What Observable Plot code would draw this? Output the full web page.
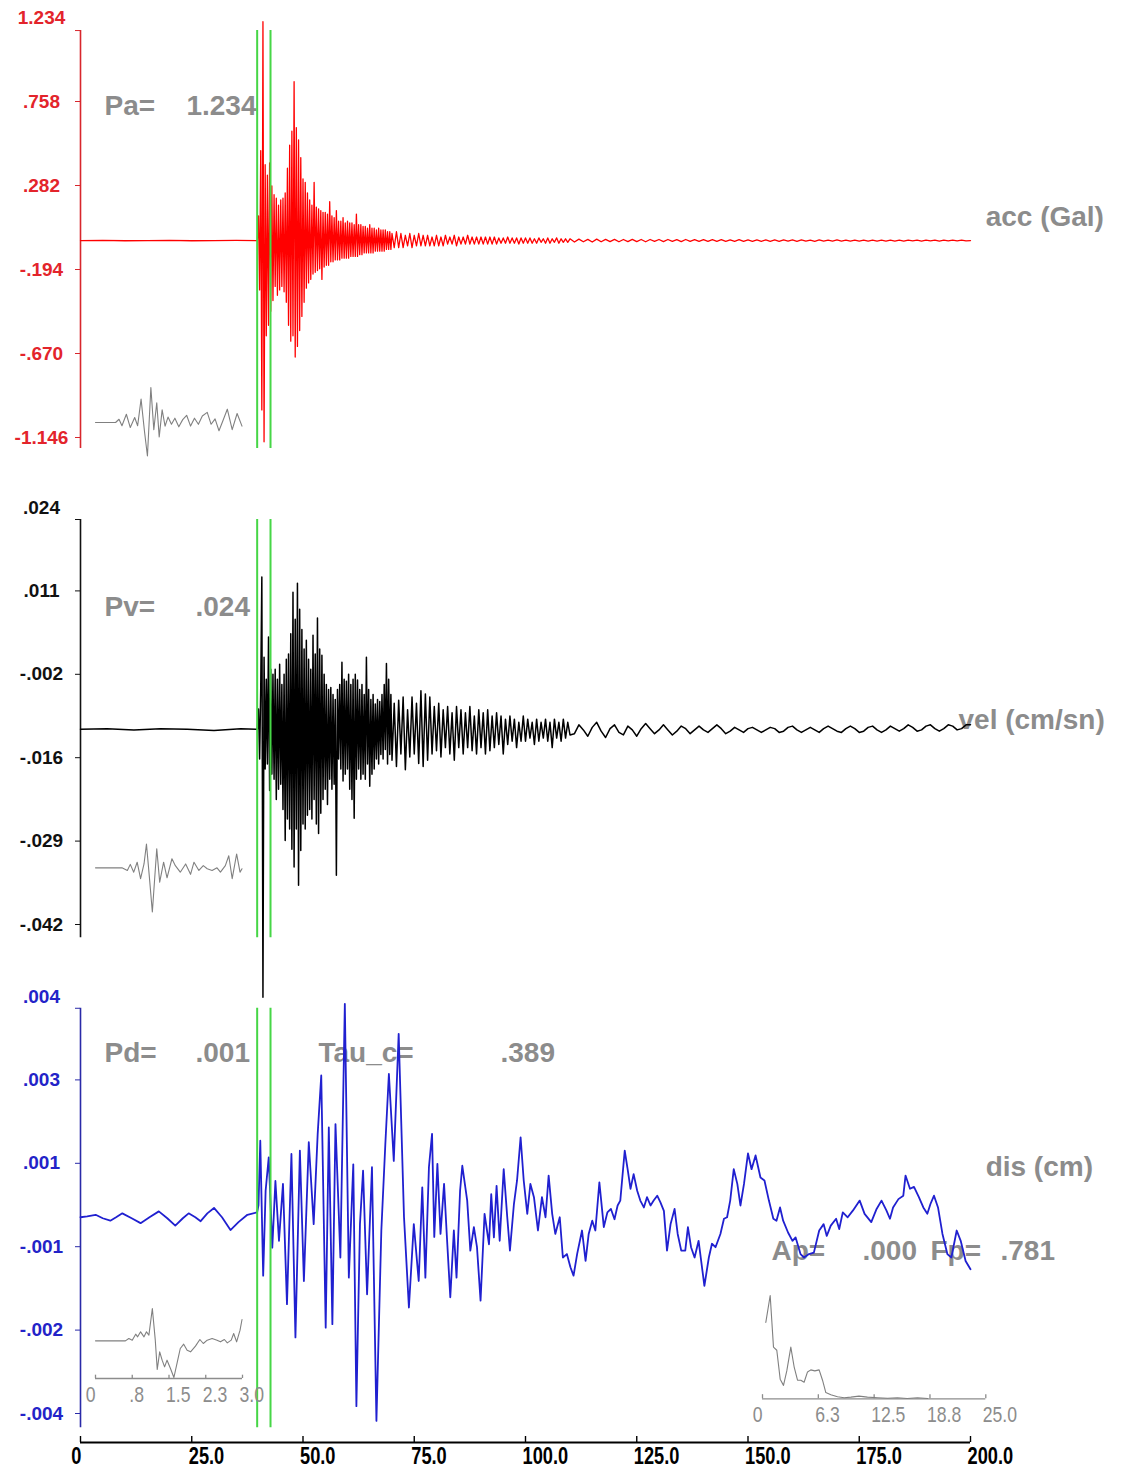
<!DOCTYPE html>
<html>
<head>
<meta charset="utf-8">
<script src="https://cdn.jsdelivr.net/npm/d3@7"></script>
<script src="https://cdn.jsdelivr.net/npm/@observablehq/plot@0.6"></script>
<style>
  body { margin: 0; background: #fff; }
  #chart { position: relative; width: 1122px; height: 1469px; overflow: hidden; background: #fff; }
  #chart svg { position: absolute; }
</style>
</head>
<body>
<div id="chart"></div>
<script>
// ---------------- DATA ----------------
const xTicks = [0, 25, 50, 75, 100, 125, 150, 175, 200];
const xTickLabels = ["0", "25.0", "50.0", "75.0", "100.0", "125.0", "150.0", "175.0", "200.0"];

const accTicks = [1.234, 0.758, 0.282, -0.194, -0.670, -1.146];
const accTickLabels = ["1.234", ".758", ".282", "-.194", "-.670", "-1.146"];
const velTicks = [0.024, 0.0108, -0.0024, -0.0156, -0.0288, -0.042];
const velTickLabels = [".024", ".011", "-.002", "-.016", "-.029", "-.042"];
const disTicks = [0.0043, 0.0026, 0.0009, -0.0008, -0.0025, -0.0042];
const disTickLabels = [".004", ".003", ".001", "-.001", "-.002", "-.004"];

// P-wave window picks (s)
const pickTimes = [39.7, 42.7];

// Acceleration (Gal)
const accPreT = [0, 5, 10, 15, 20, 25, 30, 35, 39.5];
const accPreV = [-0.03, -0.029, -0.031, -0.03, -0.029, -0.031, -0.03, -0.029, -0.03];
const accMainStart = 39.75, accMainStep = 0.25;
const accMain = [
 -0.03, 0.11, -0.31, 0.48, -0.99, 1.21, -1.17, 0.40, -0.57, 0.34,
 -0.51, 0.41, -0.43, 0.28, -0.37, 0.23, -0.29, 0.21, -0.34, 0.17,
 -0.31, 0.20, -0.29, 0.21, -0.32, 0.24, -0.38, 0.38, -0.51, 0.51,
 -0.60, 0.59, -0.57, 0.87, -0.69, 0.61, -0.63, 0.54, -0.54, 0.44,
 -0.46, 0.32, -0.38, 0.30, -0.30, 0.24, -0.27, 0.20, -0.25, 0.17,
 -0.22, 0.30, -0.21, 0.16, -0.20, 0.15, -0.19, 0.14, -0.25, 0.13,
 -0.18, 0.13, -0.17, 0.12, -0.17, 0.19, -0.15, 0.11, -0.15, 0.10,
 -0.14, 0.14, -0.14, 0.08, -0.14, 0.08, -0.13, 0.10, -0.13, 0.07,
 -0.13, 0.08, -0.13, 0.07, -0.12, 0.07, -0.12, 0.06, -0.12, 0.12,
 -0.12, 0.06, -0.11, 0.06, -0.11, 0.05, -0.10, 0.05, -0.10, 0.04,
 -0.10, 0.06, -0.10, 0.04, -0.10, 0.04, -0.09, 0.03, -0.09, 0.04,
 -0.09, 0.03, -0.09, 0.03, -0.09, 0.03, -0.08, 0.02, -0.08, 0.02,
 -0.08];
const accTail1Start = 70, accTail1Step = 0.5;
const accTail1 = [
 0.01, -0.07, 0.02, -0.07, 0.01, -0.07, 0.00, -0.06, 0.01, -0.07,
 0.00, -0.06, 0.01, -0.06, 0.00, -0.06, 0.00, -0.06, -0.01, -0.06,
 0.00, -0.06, -0.01, -0.06, 0.00, -0.05, -0.01, -0.05, 0.00, -0.06,
 -0.01, -0.05, -0.01, -0.05, 0.00, -0.05, -0.01, -0.05, -0.01, -0.05,
 -0.01, -0.05, -0.01, -0.05, -0.01, -0.05, -0.01, -0.05, -0.015, -0.045,
 -0.015, -0.045, -0.01, -0.045, -0.015, -0.045, -0.015, -0.05, -0.015, -0.045,
 -0.015, -0.045, -0.015, -0.045, -0.02, -0.045, -0.015, -0.04, -0.02, -0.045,
 -0.015, -0.045, -0.02, -0.04, -0.015, -0.045, -0.02, -0.04, -0.02, -0.04,
 -0.02];
const accTail2Start = 111, accTail2Step = 1;
const accTail2 = [
 -0.038, -0.022, -0.037, -0.023, -0.038, -0.022, -0.037, -0.023, -0.036, -0.023,
 -0.037, -0.024, -0.036, -0.023, -0.036, -0.024, -0.037, -0.024, -0.035, -0.024,
 -0.036, -0.024, -0.035, -0.025, -0.036, -0.024, -0.035, -0.025, -0.035, -0.025,
 -0.035, -0.025, -0.034, -0.025, -0.035, -0.026, -0.034, -0.025, -0.035, -0.026,
 -0.034, -0.026, -0.034, -0.026, -0.034, -0.026, -0.034, -0.026, -0.033, -0.026,
 -0.034, -0.026, -0.033, -0.027, -0.034, -0.026, -0.033, -0.027, -0.033, -0.026,
 -0.033, -0.027, -0.033, -0.027, -0.033, -0.027, -0.033, -0.027, -0.033, -0.027,
 -0.033, -0.027, -0.033, -0.027, -0.033, -0.027, -0.032, -0.027, -0.033, -0.028,
 -0.032, -0.027, -0.033, -0.028, -0.032, -0.028, -0.032, -0.028, -0.032, -0.030];

// Velocity (cm/s)
const velPreT = [0, 6, 12, 18, 24, 30, 36, 39.5];
const velPreV = [-0.0111, -0.0110, -0.0112, -0.0110, -0.0111, -0.0113, -0.0110, -0.0111];
const velMainStart = 39.75, velMainStep = 0.25;
const velMain = [
 -0.0111, -0.0079, -0.0158, -0.0048, 0.0130, -0.0535, 0.0003, -0.0174, -0.0032, -0.0166,
 0.0035, -0.0208, -0.0016, -0.0182, -0.0024, -0.0190, -0.0016, -0.0222, -0.0032, -0.0206,
 -0.0008, -0.0198, -0.0040, -0.0238, -0.0024, -0.0287, 0.0000, -0.0253, 0.0008, -0.0269,
 0.0040, -0.0301, 0.0106, -0.0329, 0.0063, -0.0269, 0.0120, -0.0358, 0.0079, -0.0303,
 0.0047, -0.0261, 0.0016, -0.0269, 0.0030, -0.0247, 0.0000, -0.0238, -0.0016, -0.0253,
 0.0038, -0.0222, 0.0008, -0.0261, 0.0065, -0.0276, 0.0016, -0.0244, 0.0006, -0.0222,
 -0.0024, -0.0206, -0.0040, -0.0230, -0.0048, -0.0190, -0.0045, -0.0206, -0.0056, -0.0198,
 -0.0064, -0.0342, -0.0048, -0.0158, -0.0040, -0.0174, -0.0005, -0.0193, -0.0032, -0.0182,
 -0.0035, -0.0174, -0.0024, -0.0206, -0.0040, -0.0222, -0.0032, -0.0252, -0.0024, -0.0190,
 -0.0033, -0.0174, -0.0048, -0.0190, -0.0040, -0.0182, -0.0056, -0.0190, 0.0003, -0.0166,
 -0.0048, -0.0201, -0.0064, -0.0182, -0.0056, -0.0174, -0.0071, -0.0158, -0.0064, -0.0166,
 -0.0067, -0.0151, -0.0056, -0.0158, -0.0040, -0.0143, -0.0007, -0.0166, -0.0032, -0.0151,
 -0.0056];
const velTail1Start = 70, velTail1Step = 0.5;
const velTail1 = [
 -0.0160, -0.0070, -0.0170, -0.0065, -0.0150, -0.0060, -0.0175, -0.0080, -0.0155, -0.0060,
 -0.0150, -0.0070, -0.0165, -0.0050, -0.0170, -0.0055, -0.0160, -0.0060, -0.0150, -0.0075,
 -0.0145, -0.0070, -0.0155, -0.0080, -0.0140, -0.0075, -0.0150, -0.0085, -0.0160, -0.0075,
 -0.0140, -0.0080, -0.0150, -0.0085, -0.0140, -0.0075, -0.0145, -0.0090, -0.0150, -0.0080,
 -0.0140, -0.0085, -0.0150, -0.0080, -0.0145, -0.0090, -0.0140, -0.0085, -0.0135, -0.0090,
 -0.0150, -0.0095, -0.0135, -0.0090, -0.0130, -0.0095, -0.0140, -0.0100, -0.0130, -0.0090,
 -0.0130, -0.0095, -0.0125, -0.0100, -0.0135, -0.0095, -0.0130, -0.0100, -0.0125, -0.0095,
 -0.0130, -0.0100, -0.0140, -0.0095, -0.0125, -0.0100, -0.0130, -0.0095, -0.0125, -0.0100,
 -0.0120];
const velTail2Start = 111, velTail2Step = 1;
const velTail2 = [
 -0.0118, -0.0104, -0.0112, -0.0122, -0.0108, -0.0100, -0.0114, -0.0124, -0.0110, -0.0104,
 -0.0116, -0.0120, -0.0106, -0.0112, -0.0122, -0.0110, -0.0102, -0.0110, -0.0118, -0.0112,
 -0.0104, -0.0112, -0.0120, -0.0114, -0.0106, -0.0110, -0.0118, -0.0112, -0.0106, -0.0112,
 -0.0116, -0.0110, -0.0104, -0.0110, -0.0118, -0.0114, -0.0108, -0.0112, -0.0116, -0.0110,
 -0.0108, -0.0112, -0.0116, -0.0112, -0.0108, -0.0110, -0.0116, -0.0114, -0.0108, -0.0106,
 -0.0112, -0.0116, -0.0112, -0.0108, -0.0112, -0.0116, -0.0110, -0.0106, -0.0110, -0.0114,
 -0.0116, -0.0110, -0.0106, -0.0110, -0.0116, -0.0114, -0.0108, -0.0106, -0.0112, -0.0116,
 -0.0112, -0.0106, -0.0110, -0.0114, -0.0110, -0.0104, -0.0108, -0.0114, -0.0112, -0.0106,
 -0.0104, -0.0110, -0.0114, -0.0110, -0.0104, -0.0106, -0.0112, -0.0110, -0.0104, -0.0104];

// Displacement (cm)
const disT = [0, 1.5, 3.4, 5, 6.7, 8, 9.4, 11.5, 13.5, 15.5, 17.6, 19.5, 21.3, 23, 24.3, 25.8, 27, 28.5, 30, 31.8, 33.7, 35.5, 37.5, 39.7,
 40.0, 40.4, 41.05, 41.6, 42.3, 43.1, 43.8, 44.6, 45.5, 46.4,
 47.4, 48.3, 49.3, 50.2, 51.3, 52.4, 53.3, 54.1, 55.1, 55.8,
 56.6, 57.3, 58.4, 59.4, 60.3, 61.3, 62.0, 62.8, 63.5, 64.4,
 65.5, 66.5, 67.6, 68.5, 69.3, 70.4, 71.5, 72.7, 73.8, 74.9,
 76.0, 76.8, 77.5, 78.3, 79.0, 79.5, 80.2, 80.9, 81.7, 82.3,
 83.1, 83.9, 84.5, 85.3, 85.8, 86.9, 87.6, 88.4, 89.1, 89.9,
 90.8, 91.8, 92.3, 92.9, 93.5, 94.2, 95.1, 95.9, 96.5, 97.4,
 98.1, 98.9, 99.6, 100.4, 101.1, 101.9, 102.8, 103.7, 104.5, 105.2,
 106.0, 106.7, 107.7, 108.4, 109.3, 110.1, 110.8, 111.6, 112.7, 113.5,
 114.2, 115.0, 115.7, 116.6, 117.6, 118.4, 119.2, 120.0, 120.7, 121.3,
 122.3, 123.0, 123.6, 124.3, 125.1, 125.8, 126.6, 127.3, 128.1, 128.8,
 129.6, 130.3, 131.1, 131.8, 132.6, 133.5, 134.2, 135.0, 135.9, 136.5,
 137.2, 138.0, 138.9, 140.2, 141.2, 141.9, 142.7, 143.8, 144.6, 145.3,
 146.0, 146.8, 147.6, 148.3, 149.1, 150.0, 150.8, 151.7, 152.8, 153.7,
 154.7, 155.7, 156.4, 157.2, 157.9, 159.0, 160.0, 160.7, 161.8, 162.6,
 163.7, 164.8, 166.0, 167.0, 167.7, 168.6, 169.8, 170.5, 171.3, 172.4,
 173.6, 175.1, 176.2, 177.7, 178.9, 180.0, 181.1, 181.9, 182.6, 183.8,
 184.9, 185.4, 186.4, 187.3, 188.4, 189.4, 190.3, 191.0, 191.8, 192.7,
 193.7, 194.8, 195.7, 196.9, 197.8, 198.9, 200.0];
const disV = [-20e-5, -18e-5, -15e-5, -22e-5, -27e-5, -20e-5, -12e-5, -22e-5, -32e-5, -20e-5, -8e-5, -22e-5, -37e-5, -22e-5, -12e-5, -20e-5, -28e-5, -12e-5, -1e-5, -20e-5, -46e-5, -30e-5, -15e-5, -10e-5,
 5e-5, 136e-5, -139e-5, 34e-5, 102e-5, -82e-5, 54e-5, -68e-5, 48e-5, -197e-5,
 109e-5, -265e-5, 116e-5, -150e-5, 133e-5, -34e-5, 150e-5, 269e-5, -245e-5, 163e-5,
 -238e-5, 170e-5, -102e-5, 415e-5, -143e-5, 88e-5, -405e-5, -34e-5, 75e-5, -177e-5,
 82e-5, -435e-5, -48e-5, 129e-5, 272e-5, 95e-5, 354e-5, -20e-5, -204e-5, -34e-5,
 -150e-5, 41e-5, -143e-5, 82e-5, 150e-5, -60e-5, 89e-5, -54e-5, 48e-5, -54e-5,
 -183e-5, -47e-5, -143e-5, 34e-5, 85e-5, 14e-5, -88e-5, -40e-5, -81e-5, -190e-5,
 -13e-5, -75e-5, 27e-5, -61e-5, 44e-5, -68e-5, 78e-5, -20e-5, -88e-5, 7e-5,
 55e-5, 143e-5, 55e-5, -13e-5, 48e-5, 21e-5, -47e-5, 21e-5, -20e-5, 65e-5,
 -13e-5, -54e-5, -20e-5, -102e-5, -95e-5, -122e-5, -139e-5, -95e-5, -47e-5, -109e-5,
 -54e-5, -27e-5, -47e-5, 51e-5, -40e-5, -10e-5, -3e-5, -24e-5, 4e-5, 14e-5,
 116e-5, 75e-5, 38e-5, 68e-5, 34e-5, 14e-5, 0, 21e-5, 4e-5, 14e-5,
 24e-5, 11e-5, -7e-5, -88e-5, -34e-5, -3e-5, -54e-5, -88e-5, -88e-5, -40e-5,
 -81e-5, -102e-5, -68e-5, -160e-5, -102e-5, -74e-5, -81e-5, -54e-5, -23e-5, -20e-5,
 14e-5, 78e-5, 48e-5, 4e-5, 48e-5, 110e-5, 78e-5, 106e-5, 61e-5, 55e-5,
 14e-5, -23e-5, -27e-5, 0, -27e-5, -51e-5, -68e-5, -61e-5, -95e-5, -102e-5,
 -95e-5, -92e-5, -47e-5, -34e-5, -58e-5, -37e-5, -23e-5, -44e-5, -10e-5, -20e-5,
 -6e-5, 14e-5, -13e-5, -30e-5, -3e-5, 14e-5, -6e-5, -23e-5, 0, 17e-5,
 24e-5, 65e-5, 38e-5, 42e-5, 21e-5, 0, -13e-5, 7e-5, 24e-5, 0,
 -54e-5, -95e-5, -102e-5, -47e-5, -68e-5, -109e-5, -126e-5];

// Inset waveforms: first 3 s after P pick (normalized amplitude)
const accInsetT = [0, 0.41, 0.48, 0.54, 0.63, 0.71, 0.80, 0.86, 0.93, 1.00, 1.06, 1.13, 1.19, 1.25, 1.30, 1.36, 1.42, 1.48, 1.55, 1.62, 1.70, 1.78, 1.86, 1.94, 2.02, 2.10, 2.18, 2.28, 2.36, 2.44, 2.52, 2.60, 2.69, 2.79, 2.89, 2.99];
const accInsetA = [0, 0, 0.09, -0.09, 0.23, -0.14, 0.14, -0.09, 0.65, -0.25, -0.93, 0.97, -0.2, 0.55, -0.4, 0.35, -0.1, 0.15, -0.05, 0.12, -0.12, 0.08, 0.2, -0.1, 0.12, -0.05, 0.18, 0.28, -0.05, 0.1, -0.23, 0.05, 0.37, -0.2, 0.25, -0.1];
const velInsetT = [0, 0.54, 0.65, 0.71, 0.78, 0.85, 0.92, 0.99, 1.04, 1.10, 1.16, 1.25, 1.31, 1.39, 1.46, 1.56, 1.63, 1.73, 1.84, 1.94, 2.01, 2.11, 2.20, 2.28, 2.38, 2.48, 2.55, 2.65, 2.72, 2.79, 2.88, 2.95, 2.99];
const velInsetA = [0, 0, -0.06, 0.08, -0.10, 0.13, -0.25, 0.09, 0.55, -0.22, -1.02, 0.44, -0.33, 0.13, -0.23, 0.21, 0.05, -0.10, 0.09, -0.15, 0.13, -0.06, 0.05, -0.02, -0.06, 0, -0.10, 0.05, 0.28, -0.25, 0.32, -0.10, -0.02];
const disInsetT = [0, 0.61, 0.68, 0.75, 0.82, 0.86, 0.92, 0.99, 1.04, 1.09, 1.16, 1.22, 1.26, 1.31, 1.36, 1.41, 1.46, 1.53, 1.60, 1.67, 1.73, 1.80, 1.87, 1.94, 2.04, 2.13, 2.20, 2.28, 2.38, 2.48, 2.55, 2.63, 2.69, 2.77, 2.82, 2.88, 2.95, 2.99];
const disInsetA = [0, 0, 0.07, 0.02, 0.20, 0.12, 0.27, 0.12, 0.27, 0.17, 0.97, 0.02, -0.86, -0.33, -0.58, -0.78, -0.58, -0.83, -1.10, -0.63, -0.23, -0.10, -0.28, -0.33, -0.16, 0.04, -0.08, 0.02, 0.07, 0.02, -0.03, 0.04, -0.06, 0.02, 0.22, -0.03, 0.32, 0.64];
const insetTicks = [0, 0.75, 1.5, 2.25, 3.0];
const insetTickLabels = ["0", ".8", "1.5", "2.3", "3.0"];

// Spectrum inset (Hz, normalized amplitude)
const specF = [0.37, 0.86, 1.23, 1.6, 1.98, 2.35, 2.72, 3.17, 3.54, 3.92, 4.29, 4.66, 5.04, 5.41, 5.86, 6.34, 6.72, 7.09, 7.65, 8.4, 9.14, 9.9, 10.8, 11.75, 12.9, 14.0, 15.1, 16.2, 17.35, 18.5];
const specA = [0.74, 1.0, 0.5, 0.47, 0.19, 0.13, 0.27, 0.5, 0.31, 0.18, 0.18, 0.16, 0.26, 0.28, 0.27, 0.28, 0.18, 0.06, 0.04, 0.02, 0.01, 0.016, 0.026, 0.016, 0.01, 0.006, 0.01, 0.003, 0.01, 0.003];
const specTicks = [0, 6.25, 12.5, 18.75, 25];
const specTickLabels = ["0", "6.3", "12.5", "18.8", "25.0"];

// ---------------- BUILD ----------------
const sans = "'Liberation Sans', Arial, Helvetica, sans-serif";
const gray = "#8c8c8c";
const green = "#46d646";

const pairs = (ts, vs) => ts.map((t, i) => ({t, v: vs[i]}));
const series = (start, step, vs) => vs.map((v, i) => ({t: start + i * step, v}));

const accData = [].concat(pairs(accPreT, accPreV), series(accMainStart, accMainStep, accMain),
  series(accTail1Start, accTail1Step, accTail1), series(accTail2Start, accTail2Step, accTail2));
const velData = [].concat(pairs(velPreT, velPreV), series(velMainStart, velMainStep, velMain),
  series(velTail1Start, velTail1Step, velTail1), series(velTail2Start, velTail2Step, velTail2));
const disData = pairs(disT, disV);

const chart = document.getElementById("chart");
function place(svg, left, top) {
  svg.style.left = left + "px";
  svg.style.top = top + "px";
  svg.style.background = "transparent";
  svg.style.overflow = "visible";
  svg.style.maxWidth = "none";
  chart.appendChild(svg);
}
// horizontally condense the glyphs of every label in an svg (narrow typeface look)
function condense(svg, k) {
  svg.querySelectorAll("text").forEach(t => {
    const tr = t.getAttribute("transform");
    if (tr && tr.indexOf("translate") === 0) {
      t.setAttribute("transform", tr + " scale(" + k + ",1)");
    } else {
      const x = +(t.getAttribute("x") || 0), y = +(t.getAttribute("y") || 0);
      t.removeAttribute("x"); t.removeAttribute("y");
      t.setAttribute("transform", "translate(" + x + "," + y + ") scale(" + k + ",1)" + (tr ? " " + tr : ""));
    }
  });
}

function note(s, t, v) {
  return Plot.text([s], {x: t, y: v, text: d => d, textAnchor: "start", lineAnchor: "middle",
    fill: gray, fontSize: 28, fontWeight: "bold", fontFamily: sans});
}

function makePanel(cfg) {
  const labelMap = new Map(cfg.ticks.map((d, i) => [d, cfg.labels[i]]));
  const tickMarks = cfg.ticks.slice(1).concat([cfg.span[1]]);
  const svg = Plot.plot({
    width: 1122, height: cfg.height,
    marginLeft: 80, marginRight: 152, marginTop: cfg.mt, marginBottom: cfg.mb,
    x: {domain: [0, 200], axis: null},
    y: {domain: cfg.domain, axis: null},
    marks: [
      ...cfg.notes.map(n => note(n[0], n[1], n[2])),
      Plot.ruleX([0], {y1: cfg.span[0], y2: cfg.span[1], stroke: cfg.axisColor, strokeWidth: 1.6}),
      Plot.axisY(tickMarks, {tickSize: 5, tickFormat: () => "", color: cfg.axisColor, label: null}),
      Plot.axisY(cfg.ticks, {tickSize: 0, tickPadding: 39, textAnchor: "middle", tickFormat: d => labelMap.get(d),
        color: cfg.labelColor, fontSize: 19, fontWeight: "bold", fontFamily: sans, label: null}),
      Plot.line(cfg.data, {x: "t", y: "v", stroke: cfg.stroke, strokeWidth: cfg.sw}),
      Plot.ruleX(pickTimes, {y1: cfg.span[0], y2: cfg.span[1], stroke: green, strokeWidth: 2})
    ]
  });
  place(svg, 0, cfg.top);
}

makePanel({
  data: accData, domain: [-1.146, 1.234], ticks: accTicks, labels: accTickLabels,
  span: [-1.208, 1.160], axisColor: "#d8262c", labelColor: "#e3242b", stroke: "#ff0000", sw: 1.3,
  top: 0, height: 470, mt: 17, mb: 33,
  notes: [["Pa=", 5.39, 0.735], ["1.234", 23.8, 0.735], ["acc (Gal)", 203.4, 0.106]]
});
makePanel({
  data: velData, domain: [-0.042, 0.024], ticks: velTicks, labels: velTickLabels,
  span: [-0.0441, 0.0221], axisColor: "#111", labelColor: "#111", stroke: "#000", sw: 1.5,
  top: 470, height: 530, mt: 37, mb: 76,
  notes: [["Pv=", 5.39, 0.00817], [".024", 25.84, 0.00817], ["vel (cm/sn)", 197.3, -0.00956]]
});
makePanel({
  data: disData, domain: [-0.0042, 0.0043], ticks: disTicks, labels: disTickLabels,
  span: [-0.00449, 0.00406], axisColor: "#2a2aa8", labelColor: "#2323c8", stroke: "#2020d0", sw: 1.8,
  top: 980, height: 460, mt: 16, mb: 27,
  notes: [["Pd=", 5.39, 0.00314], [".001", 25.84, 0.00314], ["Tau_c=", 53.48, 0.00314], [".389", 94.38, 0.00314],
          ["dis (cm)", 203.4, 0.00083], ["Ap=", 155.28, -0.00088], [".000", 175.73, -0.00088],
          ["Fp=", 191.0, -0.00088], [".781", 206.74, -0.00088]]
});

// Bottom time axis
{
  const lm = new Map(xTicks.map((d, i) => [d, xTickLabels[i]]));
  const svg = Plot.plot({
    width: 1122, height: 69, marginLeft: 80, marginRight: 152, marginTop: 30, marginBottom: 27,
    x: {domain: [0, 200], axis: null}, y: {domain: [0, 1], axis: null},
    marks: [
      Plot.ruleY([0], {stroke: "#000", strokeWidth: 2.2}),
      Plot.ruleX(xTicks, {y1: 0, y2: 0.5, stroke: "#000", strokeWidth: 1.4}),
      Plot.text(xTicks.filter(d => d === 0), {x: d => d, y: 0, dy: 14, dx: 1, text: d => lm.get(d), textAnchor: "end",
        fill: "#000", fontSize: 24, fontWeight: "bold", fontFamily: sans}),
      Plot.text(xTicks.filter(d => d !== 0), {x: d => d, y: 0, dy: 14, dx: -3, text: d => lm.get(d), textAnchor: "start",
        fill: "#000", fontSize: 24, fontWeight: "bold", fontFamily: sans})
    ]
  });
  condense(svg, 0.76);
  place(svg, 0, 1400);
}

// Small insets
function makeInset(cfg) {
  const marks = [Plot.line(cfg.data, {x: "t", y: "v", stroke: "#808080", strokeWidth: 1.1})];
  if (cfg.ticks) {
    const lm = new Map(cfg.ticks.map((d, i) => [d, cfg.labels[i]]));
    const y0 = cfg.yDomain[0];
    marks.unshift(
      Plot.ruleY([y0], {stroke: "#8c8c8c", strokeWidth: 1.3}),
      Plot.ruleX(cfg.ticks, {y1: y0, y2: y0 + cfg.tickLen, stroke: "#8c8c8c", strokeWidth: 1.3}),
      Plot.text(cfg.ticks.filter(d => d === 0), {x: d => d, y: y0, dy: 16, dx: 0, text: d => lm.get(d), textAnchor: "end",
        fill: gray, fontSize: 22, fontFamily: sans}),
      Plot.text(cfg.ticks.filter(d => d !== 0), {x: d => d, y: y0, dy: 16, dx: -3, text: d => lm.get(d), textAnchor: "start",
        fill: gray, fontSize: 22, fontFamily: sans})
    );
  }
  const svg = Plot.plot({
    width: cfg.width, height: cfg.height, marginLeft: 0, marginRight: 0, marginTop: 0, marginBottom: cfg.mb || 0,
    x: {domain: cfg.xDomain, axis: null}, y: {domain: cfg.yDomain, axis: null},
    marks
  });
  condense(svg, 0.8);
  place(svg, cfg.left, cfg.top);
}

makeInset({data: pairs(accInsetT, accInsetA), xDomain: [0, 3], yDomain: [-1, 1], left: 95, top: 385.7, width: 147, height: 72});
makeInset({data: pairs(velInsetT, velInsetA), xDomain: [0, 3], yDomain: [-1, 1], left: 95, top: 824, width: 147, height: 86.7});
makeInset({data: pairs(disInsetT, disInsetA), xDomain: [0, 3], yDomain: [-1.13, 1], left: 95, top: 1307.4, width: 147, height: 101, mb: 30,
  ticks: insetTicks, labels: insetTickLabels, tickLen: 0.1});
makeInset({data: pairs(specF, specA), xDomain: [0, 25], yDomain: [0, 1], left: 761.7, top: 1295, width: 223.3, height: 133.3, mb: 30,
  ticks: specTicks, labels: specTickLabels, tickLen: 0.04});
</script>
</body>
</html>
